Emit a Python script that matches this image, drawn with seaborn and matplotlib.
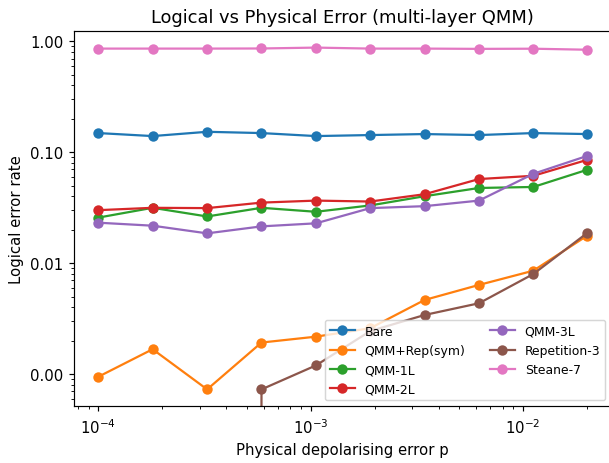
import numpy as np
import pandas as pd
import matplotlib
matplotlib.use("Agg")
import matplotlib.pyplot as plt
from matplotlib.ticker import StrMethodFormatter
import seaborn as sns

# ---- data ----
p_values = [1.0e-4, 1.80e-4, 3.25e-4, 5.86e-4, 1.057e-3, 1.906e-3,
            3.436e-3, 6.196e-3, 1.117e-2, 2.0e-2]

bare = [0.149, 0.140, 0.153, 0.149, 0.140, 0.143, 0.146, 0.143, 0.149, 0.146]
qmm_rep_sym = [9.5e-4, 1.68e-3, 7.3e-4, 1.93e-3, 2.18e-3, 2.6e-3,
               4.67e-3, 6.38e-3, 8.57e-3, 0.0177]
qmm_1l = [0.0258, 0.0316, 0.0264, 0.0316, 0.0291, 0.0332,
          0.0402, 0.0477, 0.0487, 0.0695]
qmm_2l = [0.0301, 0.0316, 0.0314, 0.0352, 0.0367, 0.0360,
          0.0419, 0.0574, 0.0614, 0.0854]
qmm_3l = [0.0232, 0.0218, 0.0186, 0.0215, 0.0229, 0.0314,
          0.0327, 0.0367, 0.0640, 0.0927]
repetition_3 = [0.0, 0.0, 0.0, 7.3e-4, 1.2e-3, 2.45e-3,
                3.42e-3, 4.36e-3, 8.0e-3, 0.0187]
steane_7 = [0.860, 0.860, 0.860, 0.862, 0.878, 0.860,
            0.860, 0.855, 0.858, 0.840]

series_names = ["Bare", "QMM+Rep(sym)", "QMM-1L", "QMM-2L",
                "QMM-3L", "Repetition-3", "Steane-7"]
series_values = [bare, qmm_rep_sym, qmm_1l, qmm_2l, qmm_3l,
                 repetition_3, steane_7]

title = "Logical vs Physical Error (multi-layer QMM)"
x_label = "Physical depolarising error p"
y_label = "Logical error rate"

# ---- long-form table ----
frames = []
for name, vals in zip(series_names, series_values):
    frames.append(pd.DataFrame({"p": p_values, "err": vals, "scheme": name}))
df = pd.concat(frames, ignore_index=True)

palette = dict(zip(series_names, sns.color_palette("tab10", len(series_names))))

DPI = 107
fig = plt.figure(figsize=(609 / DPI, 464 / DPI), dpi=DPI)
ax = fig.add_axes([0.1215, 0.1218, 0.8826, 0.8103])

sns.lineplot(data=df, x="p", y="err", hue="scheme", hue_order=series_names,
             palette=palette, marker="o", markersize=7, markeredgewidth=0,
             linewidth=1.5, estimator=None, errorbar=None, sort=True, ax=ax)

ax.set_xscale("log")
ax.set_yscale("log")
ax.yaxis.set_major_formatter(StrMethodFormatter("{x:.2f}"))

ax.set_title(title, fontsize=12)
ax.set_xlabel(x_label, fontsize=10)
ax.set_ylabel(y_label, fontsize=10)
ax.tick_params(labelsize=10)

sns.move_legend(ax, "lower right", ncol=2, title=None, fontsize="small")

fig.savefig("out.png", dpi=DPI)
